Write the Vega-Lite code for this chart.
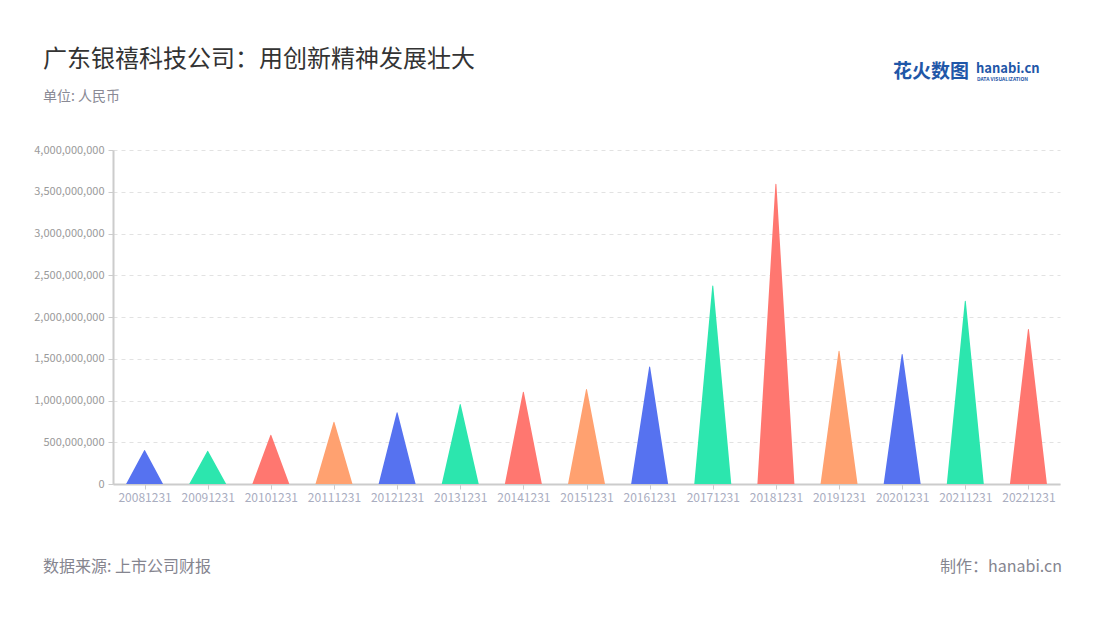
{
  "$schema": "https://vega.github.io/schema/vega-lite/v6.json",
  "width": 947,
  "height": 334,
  "autosize": {"type": "none"},
  "padding": {"left": 113, "top": 150, "right": 40, "bottom": 136},
  "background": "white",
  "config": {"font": "Noto Sans CJK SC", "view": {"stroke": null}},
  "title": {
    "text": "广东银禧科技公司：用创新精神发展壮大",
    "subtitle": "单位: 人民币",
    "anchor": "start",
    "frame": "group",
    "dx": -70,
    "dy": 87,
    "offset": 46,
    "fontSize": 24,
    "fontWeight": "normal",
    "color": "#333333",
    "subtitleFontSize": 14,
    "subtitleColor": "#8a8a95",
    "subtitlePadding": 18
  },
  "datasets": {
    "revenue": [
      {"date": "20081231", "value": 400000000},
      {"date": "20091231", "value": 392000000},
      {"date": "20101231", "value": 584000000},
      {"date": "20111231", "value": 740000000},
      {"date": "20121231", "value": 852000000},
      {"date": "20131231", "value": 952000000},
      {"date": "20141231", "value": 1100000000},
      {"date": "20151231", "value": 1132000000},
      {"date": "20161231", "value": 1400000000},
      {"date": "20171231", "value": 2370000000},
      {"date": "20181231", "value": 3590000000},
      {"date": "20191231", "value": 1590000000},
      {"date": "20201231", "value": 1550000000},
      {"date": "20211231", "value": 2190000000},
      {"date": "20221231", "value": 1850000000}
    ]
  },
  "layer": [
    {
      "data": {"name": "revenue"},
      "transform": [
        {"stack": "value", "groupby": ["date"], "as": ["base", "top"]},
        {"fold": ["base", "top"], "as": ["end", "y"]}
      ],
      "mark": {"type": "trail", "clip": true},
      "encoding": {
        "x": {
          "field": "date",
          "type": "nominal",
          "scale": {"type": "point", "padding": 0.5},
          "axis": {
            "title": null,
            "labelAngle": 0,
            "labelColor": "#a9adbf",
            "labelFontSize": 12,
            "labelPadding": 3,
            "domainColor": "#cccccc",
            "domainWidth": 2,
            "tickColor": "#cccccc",
            "tickSize": 5,
            "grid": false
          }
        },
        "y": {
          "field": "y",
          "type": "quantitative",
          "scale": {"domain": [0, 4000000000], "nice": false},
          "axis": {
            "title": null,
            "values": [0, 500000000, 1000000000, 1500000000, 2000000000, 2500000000, 3000000000, 3500000000, 4000000000],
            "format": ",.0f",
            "labelColor": "#9a9a9a",
            "labelFontSize": 11,
            "labelPadding": 4,
            "domainColor": "#cccccc",
            "domainWidth": 2,
            "tickColor": "#cccccc",
            "tickSize": 5,
            "grid": true,
            "gridColor": "#e2e2e2",
            "gridDash": [4, 4]
          }
        },
        "size": {"field": "end", "type": "ordinal", "scale": {"domain": ["base", "top"], "range": [37, 0]}, "legend": null},
        "color": {"field": "date", "type": "nominal", "scale": {"range": ["#5672f0", "#2ce6ae", "#ff7770", "#ffa170"]}, "legend": null},
        "order": {"field": "end"}
      }
    },
    {
      "data": {"values": [{}]},
      "mark": {"type": "text", "text": "数据来源: 上市公司财报", "x": -70, "y": 417, "align": "left", "baseline": "middle", "fontSize": 16, "color": "#85858f"},
      "encoding": {}
    },
    {
      "data": {"values": [{}]},
      "mark": {"type": "text", "text": "制作：hanabi.cn", "x": 949, "y": 417, "align": "right", "baseline": "middle", "fontSize": 16, "color": "#85858f"},
      "encoding": {}
    },
    {
      "data": {"values": [{}]},
      "mark": {"type": "text", "text": "花火数图", "x": 780, "y": -78, "align": "left", "baseline": "middle", "fontSize": 19, "fontWeight": "bold", "color": "#1f57a8"},
      "encoding": {}
    },
    {
      "data": {"values": [{}]},
      "mark": {"type": "text", "text": "hanabi.cn", "x": 863, "y": -81, "align": "left", "baseline": "middle", "fontSize": 13, "fontWeight": "bold", "color": "#1f57a8"},
      "encoding": {}
    },
    {
      "data": {"values": [{}]},
      "mark": {"type": "text", "text": "DATA VISUALIZATION", "x": 864, "y": -71, "align": "left", "baseline": "middle", "fontSize": 5, "fontWeight": "bold", "color": "#1f57a8"},
      "encoding": {}
    }
  ]
}
